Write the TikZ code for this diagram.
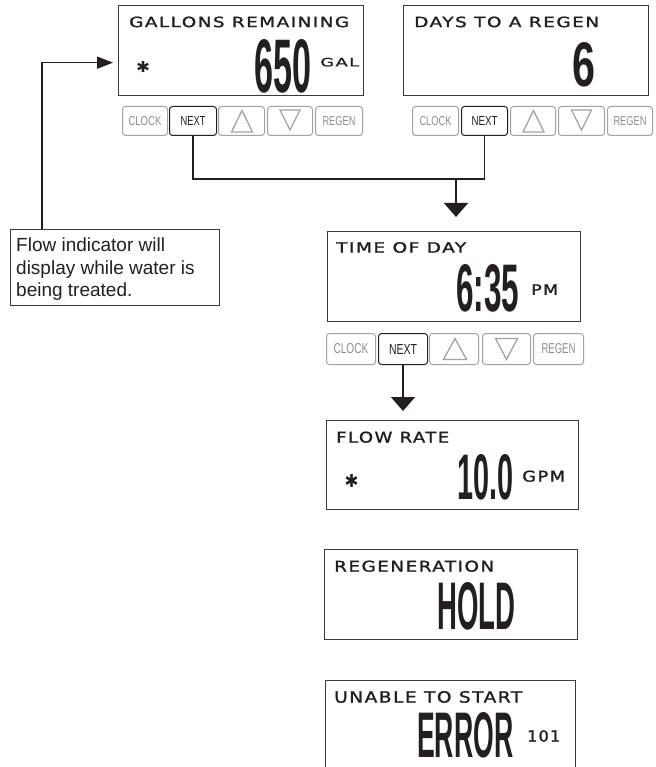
\documentclass[tikz,border=0pt]{standalone}
\usepackage{fontspec}
\usetikzlibrary{arrows.meta}
\setmainfont{Liberation Sans}
\newfontfamily\lcdfont[LetterSpace=8,FakeBold=1.3]{DejaVu Sans}
\newfontfamily\digfont{Liberation Sans}
\newfontfamily\symfont{DejaVu Sans}
\newfontfamily\btnfont{Liberation Sans}
\newcommand{\szb}[3]{\resizebox{#1pt}{#2pt}{#3}}
\definecolor{inkc}{HTML}{231F20}
\definecolor{boxc}{HTML}{3A3A3A}
\definecolor{btng}{HTML}{A2A2A2}
\definecolor{btntext}{HTML}{8C8C8C}
\tikzset{
  lcd/.style={draw=boxc, line width=1.3pt, anchor=north west, inner sep=0pt, fill=white},
  txt/.style={inner sep=0pt, anchor=south west, text=inkc},
  btn/.style={draw=btng, line width=1pt, rounded corners=3pt, anchor=north west, inner sep=0pt, text=btntext, font=\btnfont},
  btnon/.style={btn, draw=inkc, text=inkc},
  tri/.style={draw=btng, line width=1.3pt, line join=miter},
  conn/.style={draw=inkc, line width=1.6pt},
  bigarrow/.style={conn, -{Triangle[width=24pt,length=14pt]}},
  smallarrow/.style={conn, -{Triangle[width=12pt,length=16pt]}},
  notebox/.style={draw=boxc, line width=1.2pt, anchor=north west, inner sep=0pt}
}
\begin{document}
\begin{tikzpicture}[x=1pt,y=-1pt]
\useasboundingbox (0,0) rectangle (655,767);
\fill[white] (0,0) rectangle (655,767);

% ---------- display 1 ----------
\node[lcd, minimum width=245pt, minimum height=90pt] (gal) at (118,5) {};
\node[txt] (gallbl) at (129,27.5) {\szb{220}{10.5}{\lcdfont GALLONS REMAINING}};
\node[txt] (galstar) at (136,73) {\szb{14}{11}{\symfont\bfseries ✱}};
\node[txt] (galval) at (254,93) {\szb{57}{53}{\digfont\bfseries 650}};
\node[txt] (galunit) at (320,66.7) {\szb{39}{8.5}{\lcdfont GAL}};

% ---------- display 2 ----------
\node[lcd, minimum width=245pt, minimum height=90pt] (days) at (403,5) {};
\node[txt] (dayslbl) at (414,27.5) {\szb{185}{10.5}{\lcdfont DAYS TO A REGEN}};
\node[txt] (daysval) at (572,87.5) {\szb{23}{44}{\digfont\bfseries 6}};

% ---------- buttons row 1 ----------
\node[btn, minimum width=45pt, minimum height=29pt] (c1) at (122,106) {\szb{33}{9}{CLOCK}};
\node[btnon, minimum width=47pt, minimum height=29pt] (n1) at (169,106) {\szb{25}{9}{NEXT}};
\node[btn, minimum width=46pt, minimum height=29pt] (u1) at (218,106) {};
\node[btn, minimum width=45pt, minimum height=29pt] (d1) at (267,106) {};
\node[btn, minimum width=47pt, minimum height=29pt] (r1) at (315,106) {\szb{33}{9}{REGEN}};
\draw[tri] (u1.center) ++(0.5,-10.5) -- ++(10.5,21.5) -- ++(-21,0) -- cycle;
\draw[tri] (d1.center) ++(-10,-11) -- ++(20,0) -- ++(-10,20) -- cycle;

% ---------- buttons row 2 ----------
\node[btn, minimum width=46pt, minimum height=29pt] (c2) at (412,106) {\szb{32}{9}{CLOCK}};
\node[btnon, minimum width=46pt, minimum height=29pt] (n2) at (461,106) {\szb{26}{9}{NEXT}};
\node[btn, minimum width=45pt, minimum height=29pt] (u2) at (510,106) {};
\node[btn, minimum width=46pt, minimum height=29pt] (d2) at (558,106) {};
\node[btn, minimum width=45pt, minimum height=29pt] (r2) at (607,106) {\szb{33}{9}{REGEN}};
\draw[tri] (u2.center) ++(0.5,-10.5) -- ++(10.5,21.5) -- ++(-21,0) -- cycle;
\draw[tri] (d2.center) ++(-10,-11) -- ++(20,0) -- ++(-10,20) -- cycle;

% ---------- display 3 ----------
\node[lcd, minimum width=253pt, minimum height=90pt] (tod) at (327,231) {};
\node[txt] (todlbl) at (336,253) {\szb{130}{10.5}{\lcdfont TIME OF DAY}};
\node[txt] (todval) at (456,312) {\szb{63}{47}{\digfont\bfseries 6:35}};
\node[txt] (todunit) at (531,295) {\szb{27}{10.5}{\lcdfont PM}};

% ---------- buttons row 3 ----------
\node[btn, minimum width=49pt, minimum height=31pt] (c3) at (326,333) {\szb{35}{10}{CLOCK}};
\node[btnon, minimum width=49pt, minimum height=31pt] (n3) at (378,333) {\szb{28}{10}{NEXT}};
\node[btn, minimum width=49pt, minimum height=31pt] (u3) at (429,333) {};
\node[btn, minimum width=48pt, minimum height=31pt] (d3) at (482,333) {};
\node[btn, minimum width=50pt, minimum height=31pt] (r3) at (533,333) {\szb{34}{10}{REGEN}};
\draw[tri] (u3.center) ++(1,-10.5) -- ++(11.5,21) -- ++(-23,0) -- cycle;
\draw[tri] (d3.center) ++(-11,-10.5) -- ++(22,0) -- ++(-11,21) -- cycle;

% ---------- display 4 ----------
\node[lcd, minimum width=252pt, minimum height=89pt] (flow) at (326,420) {};
\node[txt] (flowlbl) at (336,443) {\szb{113}{11}{\lcdfont FLOW RATE}};
\node[txt] (flowstar) at (344.5,487.5) {\szb{14}{13}{\symfont\bfseries ✱}};
\node[txt] (flowval) at (457,500) {\szb{56}{45}{\digfont\bfseries 10.0}};
\node[txt] (flowunit) at (522,482) {\szb{43}{11}{\lcdfont GPM}};

% ---------- display 5 ----------
\node[lcd, minimum width=253pt, minimum height=90pt] (hold) at (324,549) {};
\node[txt] (holdlbl) at (334,572) {\szb{160}{11}{\lcdfont REGENERATION}};
\node[txt] (holdval) at (437,630) {\szb{78}{47}{\digfont\bfseries HOLD}};

% ---------- display 6 (its bottom edge runs past the picture) ----------
\begin{scope}
\clip (0,0) rectangle (655,767);
\node[lcd, minimum width=250pt, minimum height=130pt] (err) at (325,680) {};
\end{scope}
\node[txt] (errlbl) at (334,703) {\szb{188}{11.5}{\lcdfont UNABLE TO START}};
\node[txt] (errval) at (417,758) {\szb{96}{45}{\digfont\bfseries ERROR}};
\node[txt] (errcode) at (527,742) {\szb{33}{11.5}{\lcdfont 101}};

% ---------- note ----------
\node[notebox, minimum width=209pt, minimum height=76pt] (note) at (10,229) {};
\node[anchor=north west, inner sep=0pt, align=left, text=inkc,
      font=\fontsize{19}{22.6}\selectfont] (notetxt) at (16,237.5)
      {Flow indicator will\\display while water is\\being treated.};

% ---------- connectors ----------
\draw[conn] (n1.south) -- ++(0,43) -| (n2.south);
\coordinate (j1) at (456,178);
\draw[bigarrow, shorten >=14pt] (j1) -- (j1 |- tod.north);
\draw[bigarrow, shorten >=9pt] (n3.south) -- (n3.south |- flow.north);
\coordinate (fi) at (42,229);
\draw[smallarrow, shorten >=5pt] (fi) |- ([yshift=-12pt]gal.west);
\end{tikzpicture}
\end{document}
